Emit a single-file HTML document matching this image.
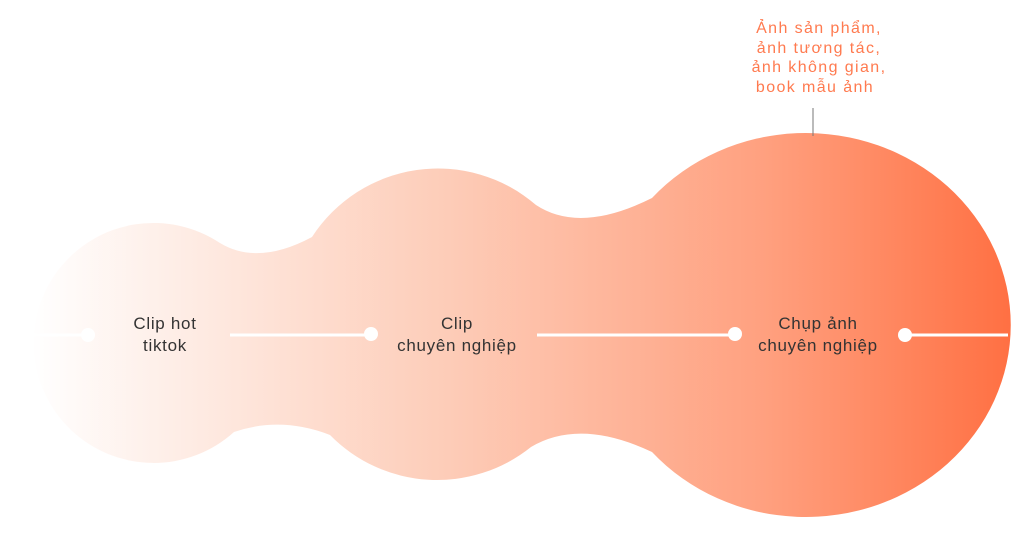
<!DOCTYPE html>
<html><head><meta charset="utf-8"><style>
html,body{margin:0;padding:0;background:#fff;}
svg{display:block;}
text{font-family:"Liberation Sans",sans-serif;}
</style></head><body>
<svg width="1024" height="560" viewBox="0 0 1024 560" xmlns="http://www.w3.org/2000/svg">
<defs>
<linearGradient id="g" gradientUnits="userSpaceOnUse" x1="30" y1="0" x2="1010" y2="0">
<stop offset="0" stop-color="#ffffff"/>
<stop offset="0.42" stop-color="#fdcdb9"/>
<stop offset="0.75" stop-color="#ffa07f"/>
<stop offset="1" stop-color="#ff7043"/>
</linearGradient>
</defs>
<path d="M220 243 Q258 266 312 237 A150 150 0 0 1 536 205 Q580 234 652 198 A205 192 0 1 1 652 452 Q580 418 531 447 A150 150 0 0 1 330 435 Q281 416 234 432 A120 120 0 1 1 220 243 Z" fill="url(#g)"/>
<g stroke="#fff" stroke-width="3">
<line x1="30" y1="335" x2="88" y2="335"/>
<line x1="230" y1="335" x2="371" y2="335"/>
<line x1="537" y1="335" x2="735" y2="335"/>
<line x1="905" y1="335" x2="1008" y2="335"/>
</g>
<g fill="#fff">
<circle cx="88" cy="335" r="7"/>
<circle cx="371" cy="334" r="7"/>
<circle cx="735" cy="334" r="7"/>
<circle cx="905" cy="335" r="7"/>
</g>
<line x1="813" y1="108" x2="813" y2="136" stroke="#777" stroke-width="1"/>
<g font-size="17" fill="#333" text-anchor="middle" letter-spacing="0.7">
<text x="165" y="329">Clip hot</text>
<text x="165" y="351">tiktok</text>
<text x="457" y="329">Clip</text>
<text x="457" y="351">chuyên nghiệp</text>
<text x="818" y="329">Chụp ảnh</text>
<text x="818" y="351">chuyên nghiệp</text>
</g>
<g font-size="16" fill="#ff7a4f" text-anchor="middle" letter-spacing="1.4">
<text x="819" y="33">Ảnh sản phẩm,</text>
<text x="819" y="53">ảnh tương tác,</text>
<text x="819" y="72">ảnh không gian,</text>
<text x="815" y="92">book mẫu ảnh</text>
</g>
</svg>
</body></html>
